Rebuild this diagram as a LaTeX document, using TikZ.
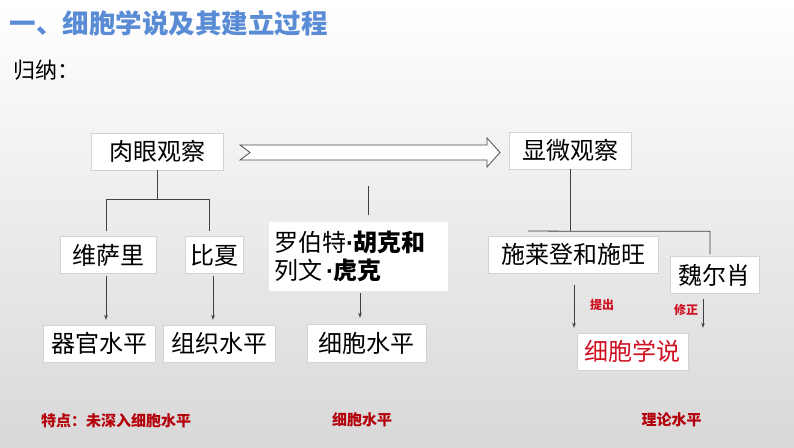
\documentclass[tikz,border=0pt]{standalone}
\usepackage{fontspec}
\setmainfont{Noto Sans CJK SC}
\newfontfamily\dotfont{Liberation Sans}
\usetikzlibrary{arrows.meta}
\definecolor{titleblue}{RGB}{90,140,214}
\definecolor{lred}{RGB}{208,16,32}
\definecolor{dred}{RGB}{180,0,10}
\definecolor{boxline}{RGB}{205,212,218}
\definecolor{bgbottom}{RGB}{216,216,216}

\begin{document}
\begin{tikzpicture}[x=1pt,y=-1pt,
    box/.style={draw=boxline,fill=white,inner sep=0pt,minimum height=37pt,font=\fontsize{24}{26}\selectfont},
    link/.style={draw=black!75,line width=0.8pt},
    arr/.style={link,-{Stealth[length=5pt,width=3.5pt]},shorten <=2pt,shorten >=5pt},
    note/.style={text=dred,font=\fontsize{15}{16}\selectfont\bfseries},
    tag/.style={text=lred,font=\fontsize{12}{13}\selectfont\bfseries}]
    \shade[top color=white,bottom color=bgbottom] (0,0) rectangle (794,447);
    \useasboundingbox (0,0) rectangle (794,447);
    % headings
    \node[anchor=west,text=titleblue,font=\fontsize{26.5}{28}\selectfont\bfseries] (T) at (6,23) {一、细胞学说及其建立过程};
    \node[anchor=west,font=\fontsize{22}{24}\selectfont] (G) at (10,70) {归纳：};
    % boxes
    \node[box,minimum width=132pt] (RY) at (157,151.5) {肉眼观察};
    \node[box,minimum width=122pt] (XW) at (570,150.5) {显微观察};
    \node[box,minimum width=96pt] (WSL) at (108,255) {维萨里};
    \node[box,minimum width=58pt] (BX) at (214,255) {比夏};
    \node[box,draw=white,minimum width=178pt,minimum height=68pt,text width=168pt,align=left,font=\fontsize{24}{28}\selectfont] (HK) at (358,256) {罗伯特{\dotfont\bfseries·}\textbf{胡克和}\\列文\,{\dotfont\bfseries·}\textbf{虎克}};
    \node[box,minimum width=112pt] (QG) at (99,343.5) {器官水平};
    \node[box,minimum width=112pt] (ZZ) at (219,343.5) {组织水平};
    \node[box,minimum width=119pt,minimum height=38pt] (XB) at (366.5,343) {细胞水平};
    \node[box,minimum width=170pt] (SW) at (573,254.5) {施莱登和施旺};
    \node[box,minimum width=89pt] (WE) at (714.5,275) {魏尔肖};
    \node[box,minimum width=111pt,text=lred] (XS) at (632.5,351.5) {细胞学说};
    % big hollow arrow
    \draw[black!70,fill=white,line width=0.8pt] (240,145) -- (487,145) -- (487,138) -- (500,152.5)
        -- (487,167) -- (487,160) -- (240,160) -- (250,152.5) -- cycle;
    % left tree
    \draw[link] (RY.south) -- ++(0,29) coordinate (RJ);
    \draw[link] ([xshift=-2pt,yshift=5pt]WSL.north) |- (RJ) -| ([xshift=-5pt,yshift=5pt]BX.north);
    \draw[arr] ([xshift=-2pt]WSL.south) -- ([xshift=-2pt]WSL.south |- QG.north);
    \draw[arr] ([xshift=-1pt]BX.south) -- ([xshift=-1pt]BX.south |- ZZ.north);
    % middle
    \coordinate (HT) at (368,186);
    \draw[link] (HT) -- ([xshift=10pt,yshift=7pt]HK.north);
    \draw[arr,shorten <=3pt,shorten >=6pt] ([xshift=2pt]HK.south) -- ([xshift=2pt]HK.south |- XB.north);
    % right tree
    \draw[link] (XW.south) -- ++(0,62) coordinate (XJ);
    \coordinate (XL) at (528,231);
    \draw[link] (XL) -- (XJ) -| ([xshift=-4.5pt,yshift=2pt]WE.north);
    \draw[arr,shorten <=12pt] ([xshift=1pt]SW.south) -- ([xshift=1pt]SW.south |- XS.north);
    \draw[arr,shorten <=5pt] ([xshift=-11.5pt]WE.south) -- ([xshift=-11.5pt]WE.south |- XS.north);
    \node[tag] (TC) at (602,305) {提出};
    \node[tag] (XZ) at (686,310) {修正};
    % bottom notes
    \node[note] (N1) at (116,421) {特点：未深入细胞水平};
    \node[note] (N2) at (362,420) {细胞水平};
    \node[note] (N3) at (671.5,420) {理论水平};
\end{tikzpicture}
\end{document}
